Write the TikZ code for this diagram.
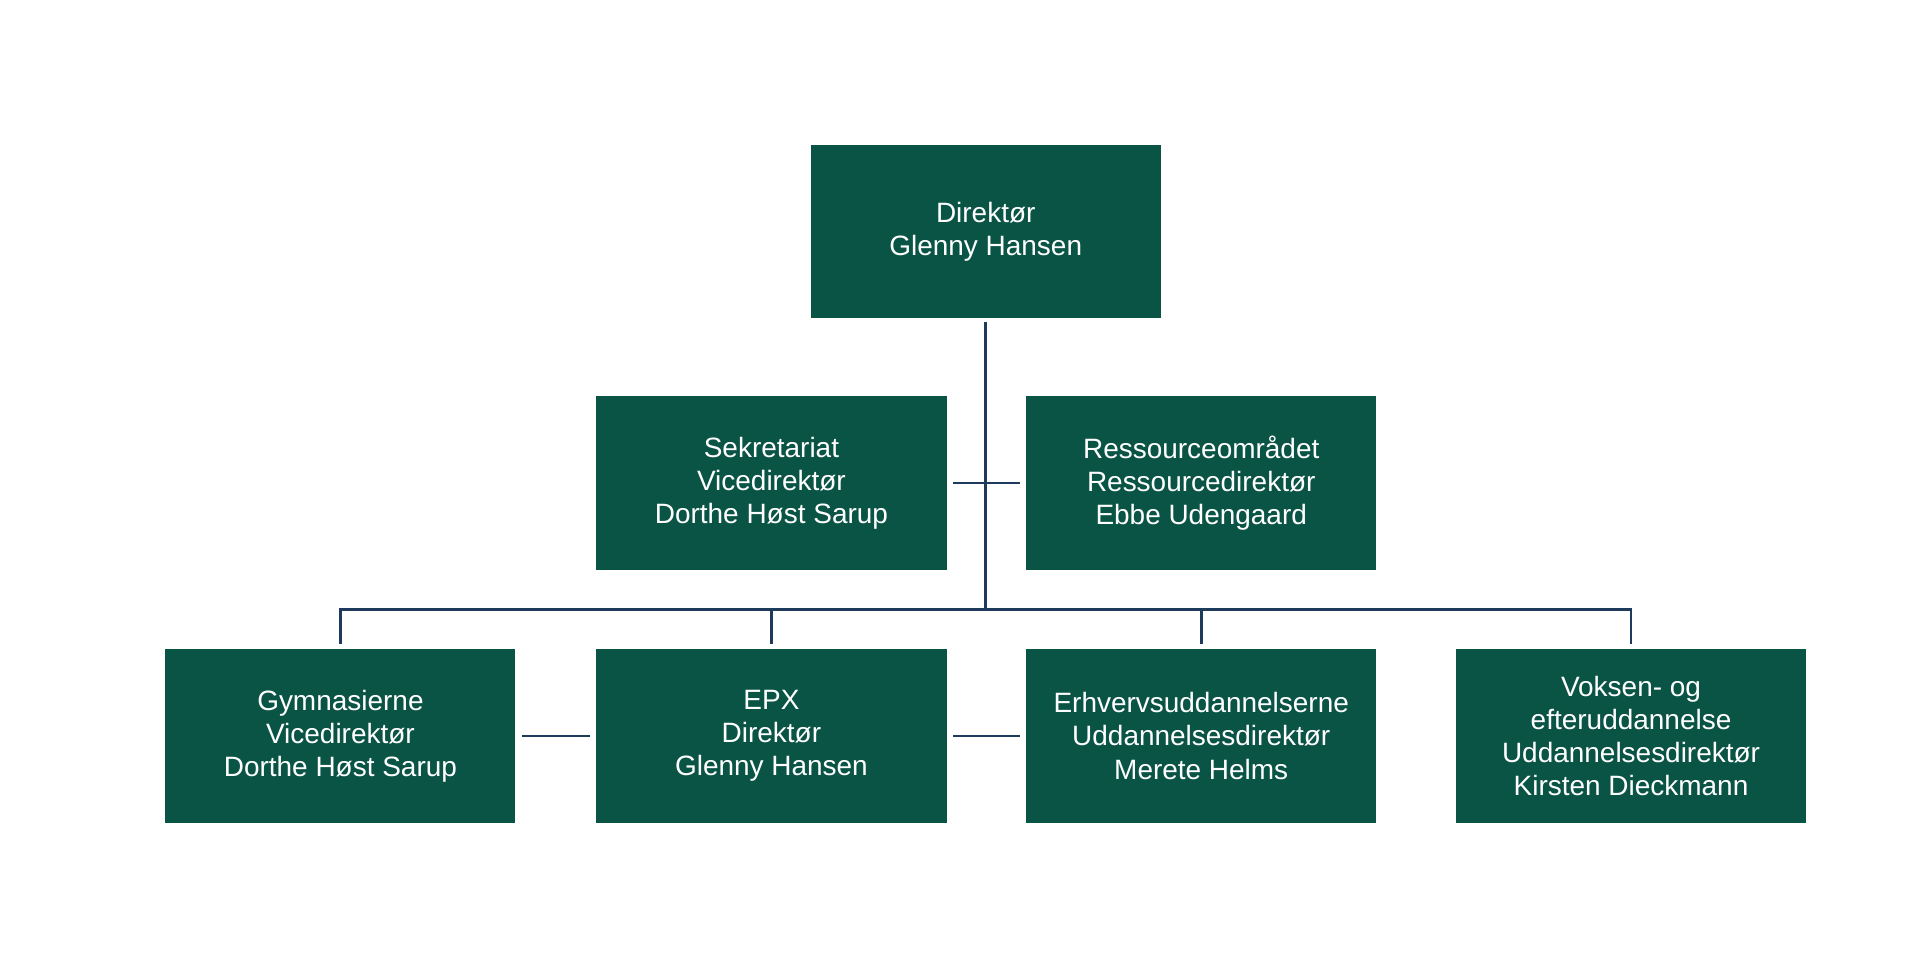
\documentclass[tikz,border=0pt]{standalone}
\usepackage{fontspec}
\setmainfont{Liberation Sans}
\definecolor{boxgreen}{HTML}{0A5445}
\definecolor{linenavy}{HTML}{1E3A5C}
\tikzset{
  unit/.style={fill=boxgreen, text=white, minimum width=5.72cm, minimum height=2.84cm,
    align=center, inner sep=0pt, font=\fontsize{13}{15.4}\selectfont},
  link/.style={draw=linenavy, line width=1.3pt}
}
\begin{document}
\begin{tikzpicture}[x=0.02cm, y=-0.02cm]
	\useasboundingbox (0,0) rectangle (1568,781);
	\node[unit] (dir) at (805,189) {Direktør\\Glenny Hansen};
	\node[unit] (sek) at (630,394.5) {Sekretariat\\Vicedirektør\\Dorthe Høst Sarup};
	\node[unit] (res) at (981,394.5) {Ressourceområdet\\Ressourcedirektør\\Ebbe Udengaard};
	\node[unit] (gym) at (278,601) {Gymnasierne\\Vicedirektør\\Dorthe Høst Sarup};
	\node[unit] (epx) at (630,601) {EPX\\Direktør\\Glenny Hansen};
	\node[unit] (eud) at (981,601) {Erhvervsuddannelserne\\Uddannelsesdirektør\\Merete Helms};
	\node[unit] (veu) at (1332,601) {Voksen- og\\efteruddannelse\\Uddannelsesdirektør\\Kirsten Dieckmann};
	\coordinate (bus) at (805,498);
	\draw[link] ([yshift=-0.06cm]dir.south) -- (bus);
	\draw[link] ([xshift=0.1cm]sek.east) -- ([xshift=-0.1cm]res.west);
	\foreach \n in {gym,epx,eud,veu}
		\draw[link] ([yshift=0.08cm]\n.north) |- (bus);
	\draw[link] ([xshift=0.1cm]gym.east) -- ([xshift=-0.1cm]epx.west);
	\draw[link] ([xshift=0.1cm]epx.east) -- ([xshift=-0.1cm]eud.west);
\end{tikzpicture}
\end{document}
